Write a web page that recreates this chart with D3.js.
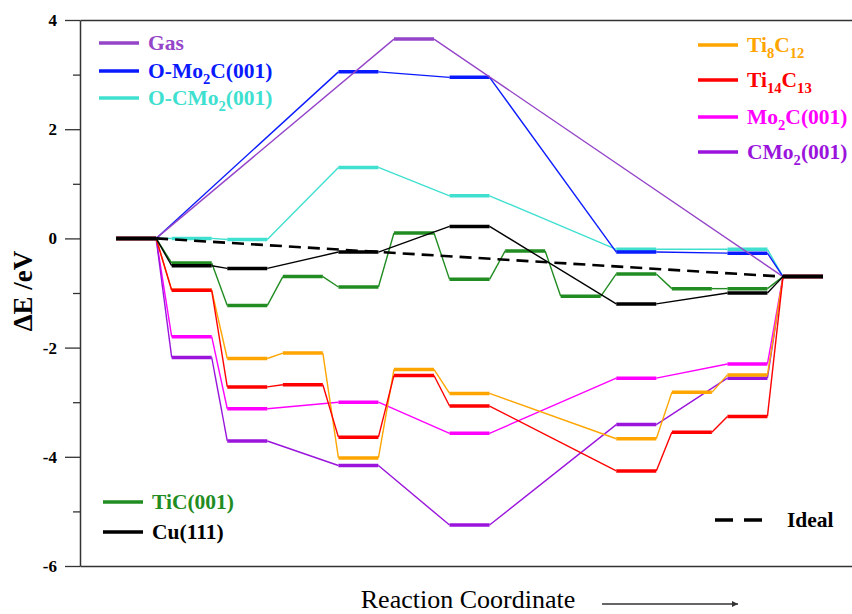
<!DOCTYPE html>
<html>
<head>
<meta charset="utf-8">
<script src="https://cdn.jsdelivr.net/npm/d3@7"></script>
<style>
  body { margin: 0; background: #fff; }
  svg { display: block; }
  text { font-family: "Liberation Serif", "Times New Roman", serif; }
</style>
</head>
<body>
<svg id="chart" width="852" height="614"></svg>
<script>
// energies per reaction step (slot 0 = start, slot 12 = end), null = no state there
const gas     = [0, null, null, null, null, 3.65, null, null, null, null, null, null, -0.7];
const oMo2C   = [0, null, null, null, 3.05, null, 2.95, null, null, -0.25, null, -0.27, -0.7];
const oCMo2   = [0, 0, -0.02, null, 1.3, null, 0.78, null, null, -0.2, null, -0.2, -0.7];
const ti8C12  = [0, -0.95, -2.2, -2.1, -4.02, -2.4, -2.84, null, null, -3.67, -2.82, -2.5, -0.7];
const ti14C13 = [0, -0.95, -2.72, -2.68, -3.64, -2.51, -3.07, null, null, -4.26, -3.55, -3.26, -0.7];
const mo2C    = [0, -1.8, -3.12, null, -3.0, null, -3.57, null, null, -2.56, null, -2.3, -0.7];
const cMo2    = [0, -2.18, -3.71, null, -4.16, null, -5.25, null, null, -3.41, null, -2.56, -0.7];
const tiC     = [0, -0.45, -1.23, -0.7, -0.89, 0.1, -0.75, -0.23, -1.06, -0.65, -0.92, -0.92, -0.7];
const cu111   = [0, -0.5, -0.55, null, -0.25, null, 0.22, null, null, -1.2, null, -1.0, -0.7];
const ideal   = [0, -0.7];

const yTicks = [-6, -4, -2, 0, 2, 4];
const yMinorTicks = [-5, -3, -1, 1, 3];
const xLabel = "Reaction Coordinate";
const yLabel = "\u0394E /eV";

const series = [
  {name: "O-CMo{2}(001)", color: "#40e0d0", values: oCMo2},
  {name: "O-Mo{2}C(001)", color: "#0a1aff", values: oMo2C},
  {name: "Gas", color: "#9545c8", values: gas},
  {name: "Mo{2}C(001)", color: "#ff00ff", values: mo2C},
  {name: "CMo{2}(001)", color: "#9a14dc", values: cMo2},
  {name: "Ti{8}C{12}", color: "#ffa500", values: ti8C12},
  {name: "Ti{14}C{13}", color: "#ff0000", values: ti14C13},
  {name: "TiC(001)", color: "#218c21", values: tiC},
  {name: "Cu(111)", color: "#000000", values: cu111}
];
const byName = Object.fromEntries(series.map(s => [s.name, s]));

// legend groups: where each block sits
const legendBlocks = [
  {x: 99, ys: [43, 71, 98], names: ["Gas", "O-Mo{2}C(001)", "O-CMo{2}(001)"]},
  {x: 698, ys: [45, 80, 117, 152], names: ["Ti{8}C{12}", "Ti{14}C{13}", "Mo{2}C(001)", "CMo{2}(001)"]},
  {x: 103, ys: [502, 532], names: ["TiC(001)", "Cu(111)"]}
];

const svg = d3.select("#chart");
const frame = {left: 80, right: 852, top: 20, bottom: 566};
const serif = "Liberation Serif, Times New Roman, serif";

const x = d3.scaleLinear().domain([1, 12]).range([191.7, 803]);
const y = d3.scaleLinear().domain([-6, 4]).range([frame.bottom, frame.top]);
const hw = 0.36; // half width of an energy level, in step units

// frame: top and bottom lines
const xFrame = d3.scaleLinear().range([frame.left, frame.right]);
svg.append("g")
  .attr("transform", `translate(0,${frame.bottom})`)
  .call(d3.axisBottom(xFrame).tickValues([]).tickSizeOuter(0))
  .select(".domain").attr("stroke", "#333").attr("stroke-width", 1.5);
svg.append("g")
  .attr("transform", `translate(0,${frame.top})`)
  .call(d3.axisTop(xFrame).tickValues([]).tickSizeOuter(0))
  .select(".domain").attr("stroke", "#333").attr("stroke-width", 1.5);

// y axis
const yAxis = svg.append("g")
  .attr("transform", `translate(${frame.left},0)`)
  .call(d3.axisLeft(y).tickValues(yTicks).tickSize(15).tickSizeOuter(0).tickPadding(8).tickFormat(d => String(d)));
yAxis.select(".domain").attr("stroke", "#333").attr("stroke-width", 1.5);
yAxis.selectAll(".tick line").attr("stroke", "#333").attr("stroke-width", 1.3);
yAxis.selectAll(".tick text")
  .attr("font-family", serif)
  .attr("font-size", 17).attr("font-weight", "bold").attr("fill", "#000");

const yMinor = svg.append("g")
  .attr("transform", `translate(${frame.left},0)`)
  .call(d3.axisLeft(y).tickValues(yMinorTicks).tickSize(7).tickFormat(""));
yMinor.select(".domain").remove();
yMinor.selectAll(".tick line").attr("stroke", "#333").attr("stroke-width", 1.3);

// axis labels
svg.append("text")
  .attr("transform", "translate(32,291) rotate(-90)")
  .attr("text-anchor", "middle")
  .attr("font-family", serif)
  .attr("font-size", 27).attr("font-weight", "bold")
  .text(yLabel);

svg.append("text")
  .attr("x", 468).attr("y", 608)
  .attr("text-anchor", "middle")
  .attr("font-family", serif)
  .attr("font-size", 26)
  .text(xLabel);

svg.append("defs").append("marker")
  .attr("id", "arrow").attr("viewBox", "0 0 10 10")
  .attr("refX", 10).attr("refY", 5)
  .attr("markerWidth", 9).attr("markerHeight", 6)
  .attr("markerUnits", "userSpaceOnUse")
  .attr("orient", "auto")
  .append("path").attr("d", "M0,0L10,5L0,10z").attr("fill", "#333");
svg.append("line")
  .attr("x1", 602).attr("x2", 738).attr("y1", 604).attr("y2", 604)
  .attr("stroke", "#333").attr("stroke-width", 1.3)
  .attr("marker-end", "url(#arrow)");

// energy profiles
const plot = svg.append("g");

function drawSeries(s) {
  const pts = s.values.map((v, i) => ({i, v})).filter(d => d.v !== null);
  const g = plot.append("g");
  g.selectAll("line.link")
    .data(d3.pairs(pts))
    .join("line")
      .attr("class", "link")
      .attr("x1", d => x(d[0].i + hw))
      .attr("y1", d => y(d[0].v))
      .attr("x2", d => x(d[1].i - hw))
      .attr("y2", d => y(d[1].v))
      .attr("stroke", s.color)
      .attr("stroke-width", 1.4);
  g.selectAll("line.level")
    .data(pts)
    .join("line")
      .attr("class", "level")
      .attr("x1", d => x(d.i - hw))
      .attr("x2", d => x(d.i + hw))
      .attr("y1", d => y(d.v))
      .attr("y2", d => y(d.v))
      .attr("stroke", s.color)
      .attr("stroke-width", 3.5);
}

series.slice(0, -1).forEach(drawSeries);

// ideal line (straight from start to end)
plot.append("line")
  .attr("x1", x(0 + hw)).attr("y1", y(ideal[0]))
  .attr("x2", x(12 - hw)).attr("y2", y(ideal[1]))
  .attr("stroke", "#000").attr("stroke-width", 2.6)
  .attr("stroke-dasharray", "12,7");

drawSeries(series[series.length - 1]);

// legend
function richText(sel, label, size) {
  const parts = label.split(/(\{[^}]*\})/).filter(p => p);
  let sub = false;
  parts.forEach(p => {
    if (p.startsWith("{")) {
      sel.append("tspan").text(p.slice(1, -1))
        .attr("font-size", size * 0.68).attr("dy", size * 0.3);
      sub = true;
    } else {
      sel.append("tspan").text(p).attr("dy", sub ? -size * 0.3 : null);
      sub = false;
    }
  });
}

const fs = 21.5;
legendBlocks.forEach(b => {
  b.names.forEach((n, k) => {
    const s = byName[n];
    const g = svg.append("g").attr("transform", `translate(${b.x},${b.ys[k]})`);
    g.append("line").attr("x1", 0).attr("x2", 40)
      .attr("stroke", s.color).attr("stroke-width", 3.5);
    const t = g.append("text").attr("x", 49).attr("y", 7)
      .attr("font-family", serif)
      .attr("font-size", fs).attr("font-weight", "bold").attr("fill", s.color);
    richText(t, n, fs);
  });
});

const gi = svg.append("g").attr("transform", "translate(715,520)");
gi.append("line").attr("x1", 0).attr("x2", 49)
  .attr("stroke", "#000").attr("stroke-width", 3.5).attr("stroke-dasharray", "18,11");
gi.append("text").attr("x", 72).attr("y", 7)
  .attr("font-family", serif)
  .attr("font-size", fs).attr("font-weight", "bold").text("Ideal");
</script>
</body>
</html>
